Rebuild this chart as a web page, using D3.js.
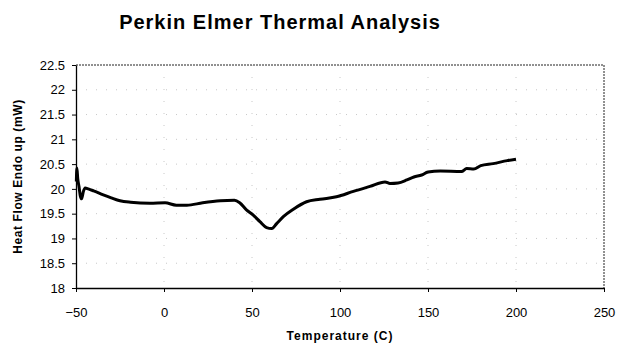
<!DOCTYPE html>
<html>
<head>
<meta charset="utf-8">
<script src="https://cdn.jsdelivr.net/npm/d3@7"></script>
<style>
  body { margin: 0; background: #fff; }
  text { font-family: "Liberation Sans", Arial, sans-serif; }
</style>
</head>
<body>
<div id="chart"></div>
<script>
// Temperature (C) readings and heat flow (mW)
var temperature = [-49.8, -49.5, -49.0, -48.3, -47.5, -46.8, -45.8, -44.8, -43, -40,
  -34.5, -30, -25, -19, -8, 0.6, 7, 13, 22, 32, 40, 43, 47, 50.7, 54.5, 58.3, 61.2,
  64, 67.8, 73.5, 81, 88.6, 98, 107.6, 117, 125.6, 128.4, 133, 138, 142, 146.4, 150,
  157, 169, 172, 176, 180, 187, 195, 200];
var heatFlow = [20.15, 20.42, 20.2, 20.05, 19.85, 19.8, 19.95, 20.02, 20.0, 19.96,
  19.88, 19.82, 19.76, 19.73, 19.71, 19.72, 19.67, 19.67, 19.72, 19.76, 19.77, 19.72,
  19.57, 19.47, 19.34, 19.22, 19.2, 19.3, 19.44, 19.59, 19.74, 19.79, 19.84, 19.95,
  20.05, 20.14, 20.11, 20.12, 20.18, 20.24, 20.28, 20.34, 20.36, 20.35, 20.41, 20.40,
  20.47, 20.51, 20.57, 20.6];

var xTicks = [-50, 0, 50, 100, 150, 200, 250];
var yTicks = [18, 18.5, 19, 19.5, 20, 20.5, 21, 21.5, 22, 22.5];

var chartTitle = "Perkin Elmer Thermal Analysis";
var xTitle = "Temperature (C)";
var yTitle = "Heat Flow Endo up (mW)";

var w = 617, h = 344;
var margin = { top: 65, right: 13, bottom: 56, left: 76 };
var width = w - margin.left - margin.right;
var height = h - margin.top - margin.bottom;

var svg = d3.select("#chart")
  .append("svg")
  .attr("width", w)
  .attr("height", h);

var g = svg.append("g")
  .attr("transform", "translate(" + margin.left + "," + margin.top + ")");

var x = d3.scaleLinear().domain([-50, 250]).range([0, width]);
var y = d3.scaleLinear().domain([18, 22.5]).range([height, 0]);

// faint dotted gridlines (barely visible in the scan)
g.append("g")
  .selectAll("line.hgrid")
  .data(yTicks.slice(1, -1))
  .enter()
  .append("line")
  .attr("x1", 0).attr("x2", width)
  .attr("y1", function (d) { return y(d); })
  .attr("y2", function (d) { return y(d); })
  .style("stroke", "#c8c8c8")
  .style("stroke-width", 1)
  .style("stroke-dasharray", "1,9");

g.append("g")
  .selectAll("line.vgrid")
  .data(xTicks.slice(1, -1))
  .enter()
  .append("line")
  .attr("y1", 0).attr("y2", height)
  .attr("x1", function (d) { return x(d); })
  .attr("x2", function (d) { return x(d); })
  .style("stroke", "#c8c8c8")
  .style("stroke-width", 1)
  .style("stroke-dasharray", "1,11");

// top and right frame, dotted
g.append("path")
  .attr("d", "M0,0H" + width + "V" + height)
  .style("fill", "none")
  .style("stroke", "#222")
  .style("stroke-width", 1)
  .style("stroke-dasharray", "2,1");

// axes
var xAxis = g.append("g")
  .attr("transform", "translate(0," + height + ")")
  .call(d3.axisBottom(x).tickValues(xTicks).tickSizeInner(4).tickSizeOuter(0).tickPadding(16));

var yAxis = g.append("g")
  .call(d3.axisLeft(y).tickValues(yTicks).tickSizeInner(4).tickSizeOuter(0).tickPadding(7)
    .tickFormat(d3.format("")));

[xAxis, yAxis].forEach(function (a) {
  a.select(".domain").style("stroke", "#000").style("stroke-width", 1.3);
  a.selectAll(".tick line").style("stroke", "#000");
  a.selectAll(".tick text")
    .style("font-family", "'Liberation Sans', Arial, sans-serif")
    .style("font-size", "13px")
    .style("fill", "#000");
});

// the trace
var line = d3.line()
  .x(function (d, i) { return x(temperature[i]); })
  .y(function (d) { return y(d); })
  .curve(d3.curveMonotoneX);

g.append("path")
  .datum(heatFlow)
  .attr("d", line)
  .style("fill", "none")
  .style("stroke", "#000")
  .style("stroke-width", 3)
  .style("stroke-linejoin", "round");

// titles
svg.append("text")
  .attr("x", 280)
  .attr("y", 29)
  .attr("text-anchor", "middle")
  .style("font-size", "20px")
  .style("font-weight", "bold")
  .style("letter-spacing", "1px")
  .text(chartTitle);

svg.append("text")
  .attr("x", margin.left + width / 2)
  .attr("y", 340)
  .attr("text-anchor", "middle")
  .style("font-size", "12px")
  .style("font-weight", "bold")
  .style("letter-spacing", "1px")
  .text(xTitle);

svg.append("text")
  .attr("transform", "translate(22," + (margin.top + height / 2) + ") rotate(-90)")
  .attr("text-anchor", "middle")
  .style("font-size", "12px")
  .style("font-weight", "bold")
  .style("letter-spacing", "0.6px")
  .text(yTitle);
</script>
</body>
</html>
